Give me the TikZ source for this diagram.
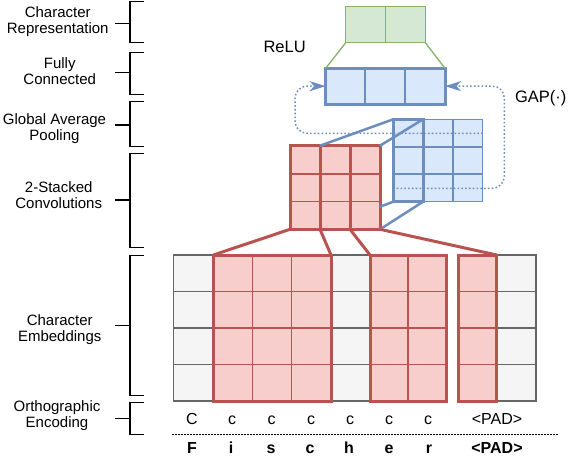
\documentclass[tikz,border=0pt]{standalone}
\usepackage{fontspec}
\setmainfont{Liberation Sans}
\usetikzlibrary{arrows.meta}
\definecolor{redfill}{HTML}{F8CECC}
\definecolor{redline}{HTML}{B85450}
\definecolor{bluefill}{HTML}{DAE8FC}
\definecolor{blueline}{HTML}{6C8EBF}
\definecolor{greenfill}{HTML}{D5E8D4}
\definecolor{greenline}{HTML}{82B366}
\definecolor{grayfill}{HTML}{F5F5F5}
\definecolor{grayline}{HTML}{666666}
\newcommand{\twol}[2]{\begin{tabular}[t]{@{}c@{}}#1\\#2\end{tabular}}
\begin{document}
\begin{tikzpicture}[x=1pt,y=-1pt,
  lbl/.style={font=\fontsize{15}{16}\selectfont, anchor=base, inner sep=0pt, outer sep=0pt},
  slbl/.style={lbl, font=\fontsize{16}{18}\selectfont},
  blbl/.style={lbl, font=\fontsize{16}{18}\selectfont\bfseries},
  brk/.style={line width=1.5pt, black},
  box/.style={inner sep=0pt, outer sep=0pt},
  gbox/.style={box, draw=greenline, fill=greenfill, line width=1.5pt},
  gline/.style={greenline, line width=1.3pt},
  fcbox/.style={box, draw=blueline, fill=bluefill, line width=3pt},
  bbox/.style={box, draw=blueline, fill=bluefill, line width=1.5pt},
  bcol/.style={box, draw=blueline, line width=3pt},
  bthin/.style={blueline, line width=1.5pt},
  bthick/.style={blueline, line width=2.5pt},
  dotblue/.style={blueline, line width=1.5pt, dash pattern=on 1.6pt off 2.2pt, rounded corners=12pt},
  tip/.style={-{Stealth[length=16pt,width=10pt,inset=4.5pt]}},
  rbox/.style={box, draw=redline, fill=redfill, line width=3pt},
  rthin/.style={redline, line width=1.5pt},
  rthick/.style={redline, line width=3pt},
  graycol/.style={box, draw=grayline, fill=grayfill, line width=1.5pt},
  graythin/.style={grayline, line width=1.5pt},
]
\useasboundingbox (0,0) rectangle (570,458);

% ---- left labels and brackets
\node[lbl] (l1) at (57.7,17.3)  {\twol{Character}{Representation}};
\node[lbl] (l2) at (59.7,68.3)  {\twol{Fully}{Connected}};
\node[lbl] (l3) at (54.5,124)   {\twol{Global Average}{Pooling}};
\node[lbl] (l4) at (58.7,192.3) {\twol{2-Stacked}{Convolutions}};
\node[lbl] (l5) at (59.7,325.7) {\twol{Character}{Embeddings}};
\node[lbl] (l6) at (57,411.7)   {\twol{Orthographic}{Encoding}};
\foreach \t/\b/\m in {1.7/42.7/23.3, 52.3/94.3/72.7, 101.7/146.7/125, 153.3/247.3/200, 255.7/395.3/325.7, 402.3/434.3/418.3} {
  \draw[brk] (144,\t) -- (130,\t) -- (130,\b) -- (144,\b);
  \draw[brk] (115,\m) -- (130,\m);
}

% ---- character representation (green)
\node[gbox, minimum width=79.6pt, minimum height=36.2pt] (rep) at (385.5,24.6) {};
\draw[greenline, line width=1.5pt] (rep.north) -- (rep.south);

% ---- fully connected (blue)
\node[fcbox, minimum width=119.3pt, minimum height=35.7pt] (fc) at (385.35,86.15) {};
\draw[bthin] (365.1,68.3) -- (365.1,104);
\draw[bthin] (404.9,68.3) -- (404.9,104);
\draw[gline] (rep.south west) -- (fc.north west);
\draw[gline] (rep.south east) -- (fc.north east);
\node[lbl, anchor=base west, font=\fontsize{16.5}{18}\selectfont] (relu) at (263.5,52.3) {ReLU};
\node[lbl, anchor=base west, font=\fontsize{16.5}{18}\selectfont] (gaplbl) at (515,102.7) {GAP(·)};

% ---- pooled feature map (blue back box)
\node[bbox, minimum width=89.4pt, minimum height=82.4pt] (gap) at (438,160.5) {};
\draw[bthin] (423.1,119.3) -- (423.1,201.7);
\draw[bthin] (452.9,119.3) -- (452.9,201.7);
\draw[bthin] (393.3,146.8) -- (482.7,146.8);
\draw[bthin] (393.3,174.2) -- (482.7,174.2);
\node[bcol, minimum width=29.8pt, minimum height=82.4pt] (gcol) at (408.2,160.5) {};

% ---- dotted GAP arrows
\coordinate (gl) at (482.7,133.3);
\coordinate (gr) at (396.7,188.3);
\draw[dotblue, tip] (gl) -- (295,133.3) -- (295,86.15) -- (fc.west);
\draw[dotblue, tip] (gr) -- (504.3,188.3) -- (504.3,86.15) -- (fc.east);

% ---- convolution (red)
\node[rbox, minimum width=30pt, minimum height=83.6pt] (c1) at (305,187.5) {};
\node[rbox, minimum width=30pt, minimum height=83.6pt] (c2) at (335,187.5) {};
\node[rbox, minimum width=30pt, minimum height=83.6pt] (c3) at (365,187.5) {};
\draw[rthin] (290,174) -- (380,174);
\draw[rthin] (290,201.7) -- (380,201.7);
\coordinate (p1) at (380,206.7);
\draw[bthick] (c2.north west) -- (gcol.north west);
\draw[bthick] (c3.north east) -- (gcol.north east);
\draw[bthick] (p1) -- (gcol.south west);
\draw[bthick] (c3.south east) -- (gcol.south east);

% ---- character embeddings
\node[graycol, minimum width=40pt, minimum height=146pt] (e0) at (193.3,328) {};
\node[graycol, minimum width=39pt, minimum height=146pt] (e4) at (350.5,328) {};
\node[graycol, minimum width=39.3pt, minimum height=146pt] (e8) at (516.35,328) {};
\foreach \y in {291.5,328,364.5} {
  \draw[graythin] (173.3,\y) -- (213.3,\y);
  \draw[graythin] (331,\y) -- (370,\y);
  \draw[graythin] (496.7,\y) -- (536,\y);
}
\node[rbox, minimum width=117.7pt, minimum height=146pt] (emb1) at (272.15,328) {};
\node[rbox, minimum width=76pt, minimum height=146pt] (emb2) at (408,328) {};
\node[rbox, minimum width=38.7pt, minimum height=146pt] (emb3) at (477.35,328) {};
\foreach \y in {291.5,328,364.5} {
  \draw[rthin] (213.3,\y) -- (331,\y);
  \draw[rthin] (370,\y) -- (446,\y);
  \draw[rthin] (458,\y) -- (496.7,\y);
}
\draw[rthin] (252.5,255) -- (252.5,401);
\draw[rthin] (291.7,255) -- (291.7,401);
\draw[rthin] (408,255) -- (408,401);

\draw[rthick] (c1.south west) -- (emb1.north west);
\draw[rthick] (c1.south east) -- (emb1.north east);
\draw[rthick] (c2.south east) -- (emb2.north west);
\draw[rthick] (c3.south east) -- (emb3.north east);

% ---- orthographic encoding and characters
\foreach \x/\t [count=\i] in {192/C, 232/c, 271.5/c, 311/c, 350/c, 389/c, 428/c, 497/{<PAD>}} {
  \node[slbl] (o\i) at (\x,424) {\t};
}
\coordinate (dl) at (172,434.3);
\coordinate (dr) at (558,434.3);
\draw[black, line width=1.5pt, dash pattern=on 1.5pt off 1.5pt] (dl) -- (dr);
\foreach \x/\t [count=\i] in {192/F, 231/i, 271/s, 310/c, 349/h, 389/e, 429/r, 497/{<PAD>}} {
  \node[blbl] (w\i) at (\x,453.5) {\t};
}
\end{tikzpicture}
\end{document}
